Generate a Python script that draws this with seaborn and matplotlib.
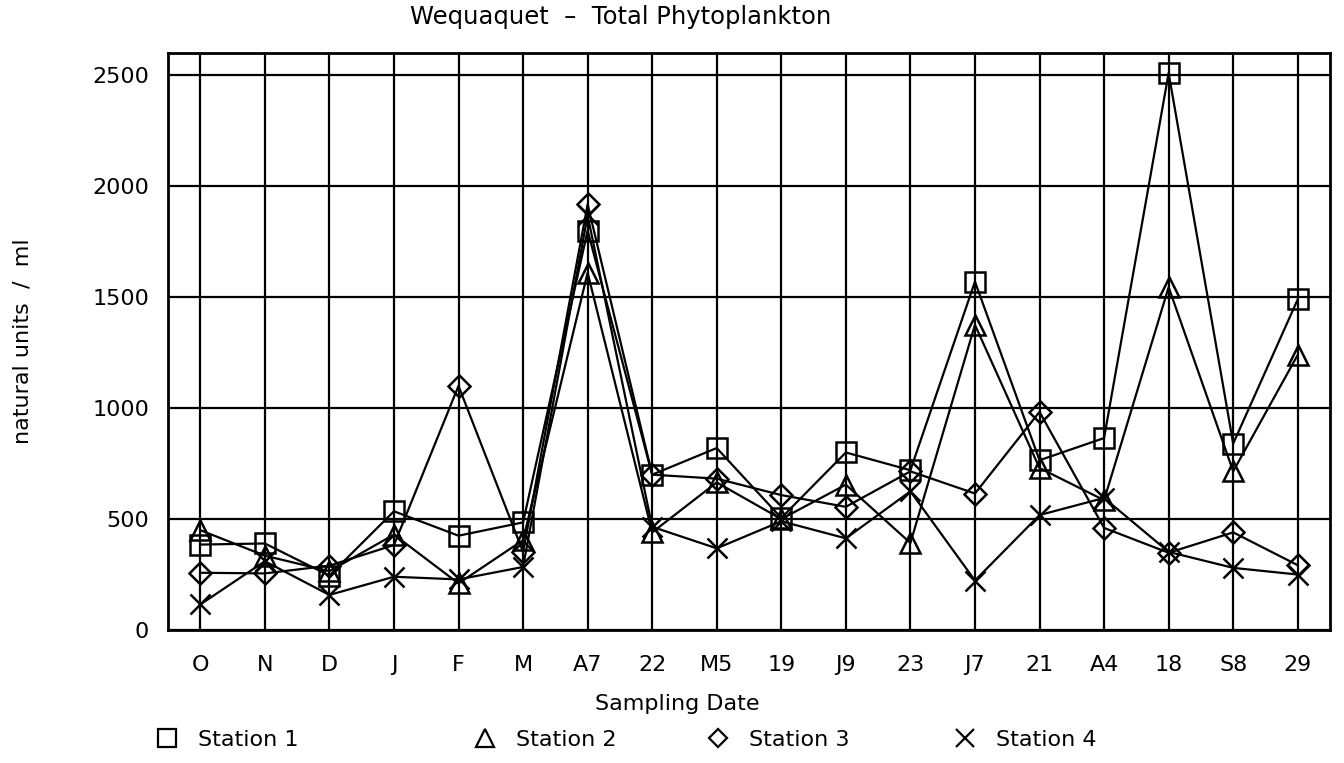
import pandas as pd
import numpy as np

import matplotlib
matplotlib.use('Agg')
import matplotlib.pyplot as plt
from matplotlib.lines import Line2D
import seaborn as sns

# sampling dates (x axis labels)
dates = ['O', 'N', 'D', 'J', 'F', 'M', 'A7', '22', 'M5', '19', 'J9', '23',
         'J7', '21', 'A4', '18', 'S8', '29']

# natural units / ml
station1 = [385, 390, 245, 535, 425, 485, 1800, 700, 820, 505, 800, 720,
            1570, 765, 865, 2510, 840, 1490]
station2 = [450, 335, 265, 430, 210, 405, 1610, 440, 665, 500, 655, 392,
            1375, 730, 585, 1545, 715, 1240]
station3 = [258, 255, 290, 383, 1100, 352, 1918, 700, 682, 608, 555, 715,
            615, 983, 460, 348, 440, 292]
station4 = [115, 310, 158, 240, 228, 284, 1868, 465, 368, 490, 413, 625,
            223, 518, 595, 352, 280, 250]

stations = ['Station 1', 'Station 2', 'Station 3', 'Station 4']
markers = {'Station 1': 's', 'Station 2': '^', 'Station 3': 'D', 'Station 4': 'x'}
msizes = {'Station 1': 15, 'Station 2': 15, 'Station 3': 11, 'Station 4': 15}

# long form table for seaborn
df = pd.DataFrame({
    'pos': list(range(len(dates))) * 4,
    'value': station1 + station2 + station3 + station4,
    'station': np.repeat(stations, len(dates)),
})

sns.set_style('white')
plt.rcParams['font.family'] = ['DejaVu Sans']
plt.rcParams['text.color'] = 'black'
plt.rcParams['axes.labelcolor'] = 'black'

fig = plt.figure(figsize=(13.44, 7.63), dpi=100)
ax = fig.add_axes([0.125, 0.1743, 0.8646, 0.7562])

for st in stations:
    sub = df[df['station'] == st]
    sns.lineplot(data=sub, x='pos', y='value', ax=ax, color='black',
                 linewidth=1.6, marker=markers[st], markersize=msizes[st],
                 markerfacecolor='none', markeredgecolor='black',
                 markeredgewidth=1.8, legend=False)

ax.set_xlim(-0.5, len(dates) - 0.5)
ax.set_ylim(0, 2600)
ax.set_xticks(range(len(dates)))
ax.set_xticklabels(dates)
ax.set_yticks([0, 500, 1000, 1500, 2000, 2500])
ax.grid(True, color='black', linewidth=1.6)
ax.set_axisbelow(True)
for sp in ax.spines.values():
    sp.set_color('black')
    sp.set_linewidth(2)
ax.tick_params(axis='both', direction='out', length=10, width=1.6,
               colors='black', labelsize=16)
ax.tick_params(axis='x', pad=8)

ax.set_xlabel('Sampling Date', fontsize=16)
ax.set_ylabel('natural units  /  ml', fontsize=16)
ax.xaxis.set_label_coords(0.438, -0.111)
ax.yaxis.set_label_coords(-0.117, 0.5)
fig.text(0.462, 0.978, 'Wequaquet  \u2013  Total Phytoplankton', ha='center',
         va='center', fontsize=17.5)

# legend entries, markers only, spaced like the original
leg_x = [167, 485, 718, 965]
for st, lx in zip(stations, leg_x):
    h = Line2D([], [], linestyle='none', marker=markers[st],
               markersize=msizes[st] - 2, markerfacecolor='none',
               markeredgecolor='black', markeredgewidth=1.6)
    fig.legend([h], [st], loc='center left',
               bbox_to_anchor=((lx - 11) / 1344, 0.03), frameon=False,
               fontsize=16, handlelength=1.0, handletextpad=0.9,
               borderpad=0, borderaxespad=0)

plt.savefig('out.png', dpi=100)
